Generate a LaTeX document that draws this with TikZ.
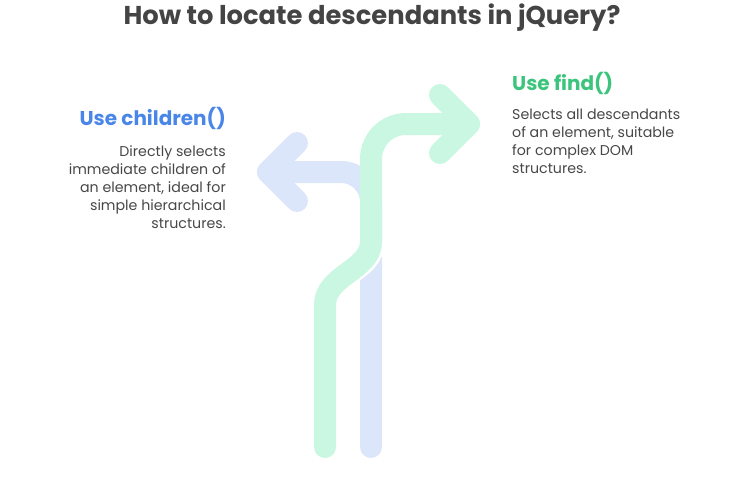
\documentclass[tikz,border=0pt]{standalone}
\usepackage{fontspec}
\setmainfont{Poppins}
\usetikzlibrary{positioning}
\definecolor{titlegray}{HTML}{444444}
\definecolor{bodygray}{HTML}{474747}
\definecolor{headblue}{HTML}{4A86E8}
\definecolor{headgreen}{HTML}{3CC47C}
\definecolor{pathblue}{HTML}{DCE6FA}
\definecolor{pathgreen}{HTML}{C9F7E1}
\tikzset{
  titletext/.style={font=\fontsize{25.8}{30}\selectfont\bfseries, text=titlegray, inner sep=0pt},
  headtext/.style={font=\fontsize{20}{24}\selectfont\bfseries, inner sep=0pt},
  bodytext/.style={font=\fontsize{14.2}{18}\selectfont, text=bodygray, inner sep=0pt},
  road/.style={line width=22pt, line cap=round, line join=round},
}
\begin{document}
\begin{tikzpicture}[x=1pt,y=-1pt]
\useasboundingbox (0,0) rectangle (744,479);
% blue route
\coordinate (bstart) at (371,447);
\coordinate (bcorner) at (371,172);
\coordinate (btip) at (268,172);
\coordinate (barmA) at (297,143);
\coordinate (barmB) at (297,201);
\draw[road, pathblue, rounded corners=30pt] (bstart) -- (bcorner) -- (btip);
\draw[road, pathblue] (barmA) -- (btip) -- (barmB);
% green route
\coordinate (gstart) at (325,447);
\coordinate (gbend) at (325,305);
\coordinate (gup) at (371,242);
\coordinate (gcorner) at (371,124);
\coordinate (gtip) at (469,124);
\coordinate (garmA) at (440,95);
\coordinate (garmB) at (440,153);
\draw[line width=27pt, white] (325,300) .. controls (325,275) and (371,270) .. (gup);
\draw[road, pathgreen] (gstart) -- (gbend) .. controls (325,275) and (371,270) .. (gup);
\draw[road, pathgreen, rounded corners=35pt] (gup) -- (gcorner) -- (gtip);
\draw[road, pathgreen] (garmA) -- (gtip) -- (garmB);
% texts
\node[titletext] (title) at (372,18) {How to locate descendants in jQuery?};
\node[headtext, text=headblue, anchor=east] (lhead) at (226,118) {Use children()};
\node[bodytext, anchor=north east, align=right] (lbody) at (226,145) {Directly selects\\immediate children of\\an element, ideal for\\simple hierarchical\\structures.};
\node[headtext, text=headgreen, anchor=west] (rhead) at (512,83) {Use find()};
\node[bodytext, anchor=north west, align=left] (rbody) at (512,109) {Selects all descendants\\of an element, suitable\\for complex DOM\\structures.};
\end{tikzpicture}
\end{document}
